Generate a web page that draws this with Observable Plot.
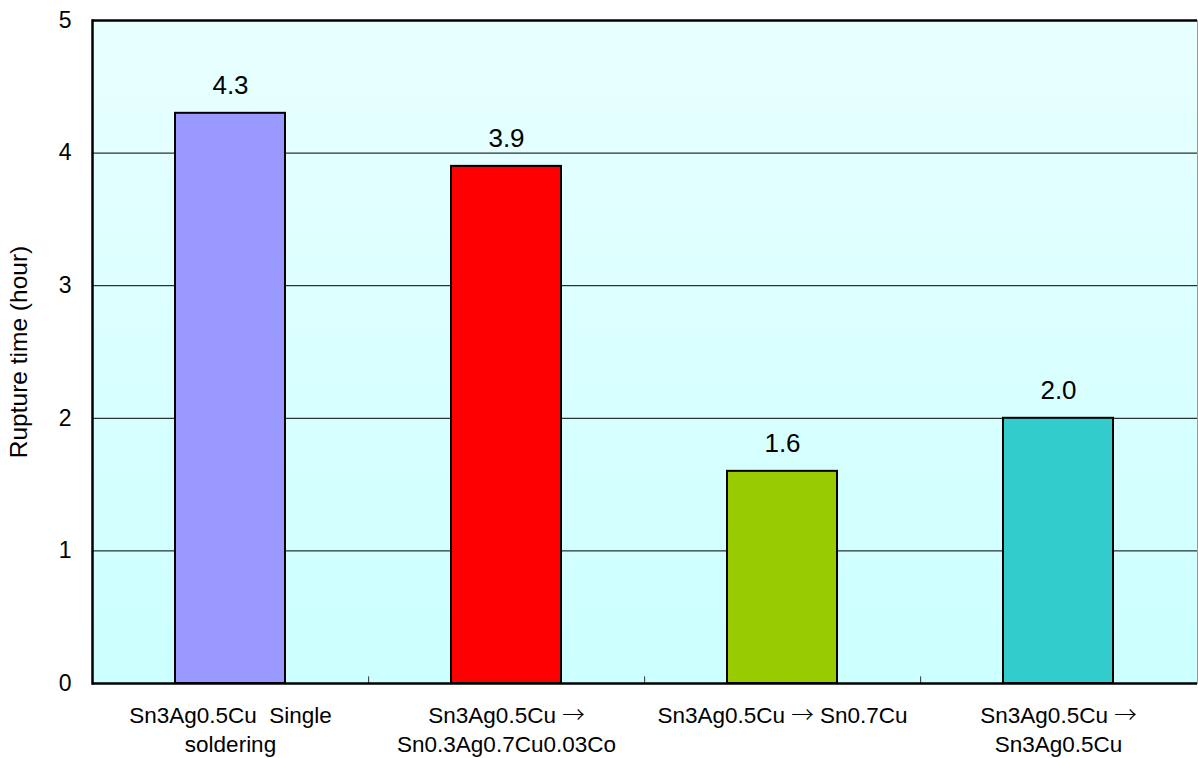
<!DOCTYPE html>
<html>
<head>
<meta charset="utf-8">
<script src="https://cdn.jsdelivr.net/npm/d3@7"></script>
<script src="https://cdn.jsdelivr.net/npm/@observablehq/plot@0.6"></script>
<style>
  html, body { margin: 0; padding: 0; background: #fff; }
  #chart { width: 1198px; height: 758px; }
</style>
</head>
<body>
<div id="chart"></div>
<script>
const categories = ["A", "B", "C", "D"];
const tickLabels = [
  "Sn3Ag0.5Cu  Single\nsoldering",
  "Sn3Ag0.5Cu →\nSn0.3Ag0.7Cu0.03Co",
  "Sn3Ag0.5Cu → Sn0.7Cu",
  "Sn3Ag0.5Cu →\nSn3Ag0.5Cu"
];
const values = [4.3, 3.9, 1.6, 2.0];
const colors = ["#9999ff", "#ff0000", "#99cc00", "#33cccc"];
const yTicks = [0, 1, 2, 3, 4, 5];
const yTitle = "Rupture time (hour)";

const data = categories.map((c, i) => ({cat: c, value: values[i], color: colors[i]}));

const W = 1198, H = 758;
const mL = 92, mR = 1, mT = 20, mB = 75;
const step = (W - mL - mR) / categories.length;

const chart = Plot.plot({
  width: W,
  height: H,
  marginLeft: mL,
  marginRight: mR,
  marginTop: mT,
  marginBottom: mB,
  style: {fontFamily: "'Liberation Sans', Arial, sans-serif", fontSize: "22px", color: "#000", background: "transparent"},
  x: {domain: categories, paddingInner: 0.6, paddingOuter: 0.3, align: 0.5},
  y: {domain: [0, 5]},
  marks: [
    Plot.frame({fill: "url(#bgGrad)", stroke: "#999999", strokeWidth: 1}),
    Plot.gridY(yTicks, {stroke: "#000", strokeOpacity: 1, strokeWidth: 1}),
    Plot.ruleX(categories.slice(0, 3), {x: d => d, y1: 0, y2: 0.05, dx: step / 2, stroke: "#333", strokeWidth: 1}),
    Plot.barY(data, {x: "cat", y: "value", fill: "color", stroke: "#000", strokeWidth: 2}),
    Plot.text(data, {x: "cat", y: "value", text: d => d.value.toFixed(1), dy: -28, fontSize: 26, fill: "#000"}),
    Plot.ruleY([0, 5], {stroke: "#000", strokeWidth: 2.5}),
    Plot.frame({anchor: "left", stroke: "#000", strokeWidth: 2.5}),
    Plot.axisY({ticks: yTicks, tickFormat: d3.format("d"), tickSize: 0, tickPadding: 21, fontSize: 23, label: null}),
    Plot.axisY({ticks: [], tickSize: 0, fontSize: 24.5, label: yTitle, labelAnchor: "center", labelArrow: "none", labelOffset: 83}),
    Plot.axisX({tickSize: 0, tickPadding: 19, fontSize: 22.5, lineHeight: 1.28, tickFormat: (d) => tickLabels[categories.indexOf(d)], label: null})
  ]
});

const defs = document.createElementNS("http://www.w3.org/2000/svg", "defs");
defs.innerHTML = `<linearGradient id="bgGrad" x1="0" y1="0" x2="0" y2="1">
  <stop offset="0" stop-color="#e9ffff"/>
  <stop offset="1" stop-color="#ccffff"/>
</linearGradient>`;
chart.insertBefore(defs, chart.firstChild);

// render the arrow glyph with a font whose arrow is full-width, as in the original
const ns = "http://www.w3.org/2000/svg";
chart.querySelectorAll("text, tspan").forEach(el => {
  if (el.children.length === 0 && el.textContent.includes("→")) {
    const parts = el.textContent.split("→");
    el.textContent = "";
    parts.forEach((p, i) => {
      if (i > 0) {
        const t = document.createElementNS(ns, "tspan");
        t.setAttribute("font-family", "'Noto Sans CJK JP'");
        t.setAttribute("font-weight", "300");
        t.textContent = "→";
        el.appendChild(t);
      }
      el.appendChild(document.createTextNode(p));
    });
  }
});

document.getElementById("chart").appendChild(chart);
</script>
</body>
</html>
